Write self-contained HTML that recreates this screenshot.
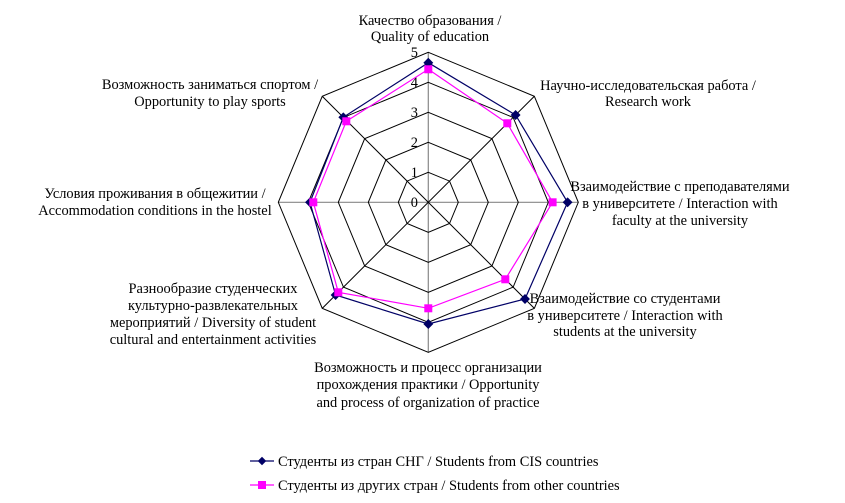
<!DOCTYPE html>
<html><head><meta charset="utf-8"><style>
html,body{margin:0;padding:0;background:#fff;}
svg{display:block;}
text{font-family:"Liberation Serif","DejaVu Serif",serif;font-size:14.4px;fill:#000;}
</style></head><body>
<svg width="845" height="503" viewBox="0 0 845 503" xmlns="http://www.w3.org/2000/svg">
<defs>
<polygon id="oct" points="0,-30 21.21,-21.21 30,0 21.21,21.21 0,30 -21.21,21.21 -30,0 -21.21,-21.21" fill="none" stroke="#000" stroke-width="1" vector-effect="non-scaling-stroke"/>
</defs>
<g transform="translate(428.3,202.3)">
<g stroke="#888" stroke-width="1.2">
<line x1="0" y1="-150" x2="0" y2="150"/>
<line x1="-150" y1="0" x2="150" y2="0"/>
<line x1="-106.07" y1="-106.07" x2="106.07" y2="106.07" stroke="#000" stroke-width="1"/>
<line x1="106.07" y1="-106.07" x2="-106.07" y2="106.07" stroke="#000" stroke-width="1"/>
</g>
<use href="#oct" transform="scale(1)"/>
<use href="#oct" transform="scale(2)"/>
<use href="#oct" transform="scale(3)"/>
<use href="#oct" transform="scale(4)"/>
<use href="#oct" transform="scale(5)"/>
</g>
<g text-anchor="end">
<text x="418" y="207">0</text>
<text x="418" y="177">1</text>
<text x="418" y="147">2</text>
<text x="418" y="117">3</text>
<text x="418" y="87">4</text>
<text x="418" y="57">5</text>
</g>
<polygon points="428.3,62.7 515.6,115 567.6,202.3 525,299 428.3,324 335.6,295 310,202.3 343.3,117.3" fill="none" stroke="#000066" stroke-width="1.2"/>
<g fill="#000066">
<rect x="-3.5" y="-3.5" width="7" height="7" transform="translate(428.3,62.7) rotate(45)"/>
<rect x="-3.5" y="-3.5" width="7" height="7" transform="translate(515.6,115) rotate(45)"/>
<rect x="-3.5" y="-3.5" width="7" height="7" transform="translate(567.6,202.3) rotate(45)"/>
<rect x="-3.5" y="-3.5" width="7" height="7" transform="translate(525,299) rotate(45)"/>
<rect x="-3.5" y="-3.5" width="7" height="7" transform="translate(428.3,324) rotate(45)"/>
<rect x="-3.5" y="-3.5" width="7" height="7" transform="translate(335.6,295) rotate(45)"/>
<rect x="-3.5" y="-3.5" width="7" height="7" transform="translate(310,202.3) rotate(45)"/>
<rect x="-3.5" y="-3.5" width="7" height="7" transform="translate(343.3,117.3) rotate(45)"/>
</g>
<polygon points="428.3,69.3 507.3,123.3 552.6,202.3 505.3,279.3 428.3,308.3 338.3,292.3 313.3,202.3 346.3,121.3" fill="none" stroke="#ff00ff" stroke-width="1.2"/>
<g fill="#ff00ff">
<rect x="424.3" y="65.3" width="8" height="8"/>
<rect x="503.3" y="119.3" width="8" height="8"/>
<rect x="548.6" y="198.3" width="8" height="8"/>
<rect x="501.3" y="275.3" width="8" height="8"/>
<rect x="424.3" y="304.3" width="8" height="8"/>
<rect x="334.3" y="288.3" width="8" height="8"/>
<rect x="309.3" y="198.3" width="8" height="8"/>
<rect x="342.3" y="117.3" width="8" height="8"/>
</g>
<g text-anchor="middle">
<text x="430" y="25">Качество образования /</text>
<text x="430" y="41">Quality of education</text>
<text x="648" y="90">Научно-исследовательская работа /</text>
<text x="648" y="106">Research work</text>
<text x="680" y="191">Взаимодействие с преподавателями</text>
<text x="680" y="208">в университете / Interaction with</text>
<text x="680" y="225">faculty at the university</text>
<text x="625" y="303">Взаимодействие со студентами</text>
<text x="625" y="320">в университете / Interaction with</text>
<text x="625" y="336">students at the university</text>
<text x="428" y="372">Возможность и процесс организации</text>
<text x="428" y="389">прохождения практики / Opportunity</text>
<text x="428" y="407">and process of organization of practice</text>
<text x="213" y="293">Разнообразие студенческих</text>
<text x="213" y="310">культурно-развлекательных</text>
<text x="213" y="327">мероприятий / Diversity of student</text>
<text x="213" y="344">cultural and entertainment activities</text>
<text x="155" y="198">Условия проживания в общежитии /</text>
<text x="155" y="215">Accommodation conditions in the hostel</text>
<text x="210" y="89">Возможность заниматься спортом /</text>
<text x="210" y="106">Opportunity to play sports</text>
</g>
<line x1="250" y1="461" x2="274" y2="461" stroke="#000066" stroke-width="1.2"/>
<rect x="-3" y="-3" width="6" height="6" fill="#000066" transform="translate(262,461) rotate(45)"/>
<text x="278" y="466">Студенты из стран СНГ / Students from CIS countries</text>
<line x1="250" y1="485" x2="274" y2="485" stroke="#ff00ff" stroke-width="1.2"/>
<rect x="258" y="481" width="8" height="8" fill="#ff00ff"/>
<text x="278" y="490">Студенты из других стран / Students from other countries</text>
</svg>
</body></html>
